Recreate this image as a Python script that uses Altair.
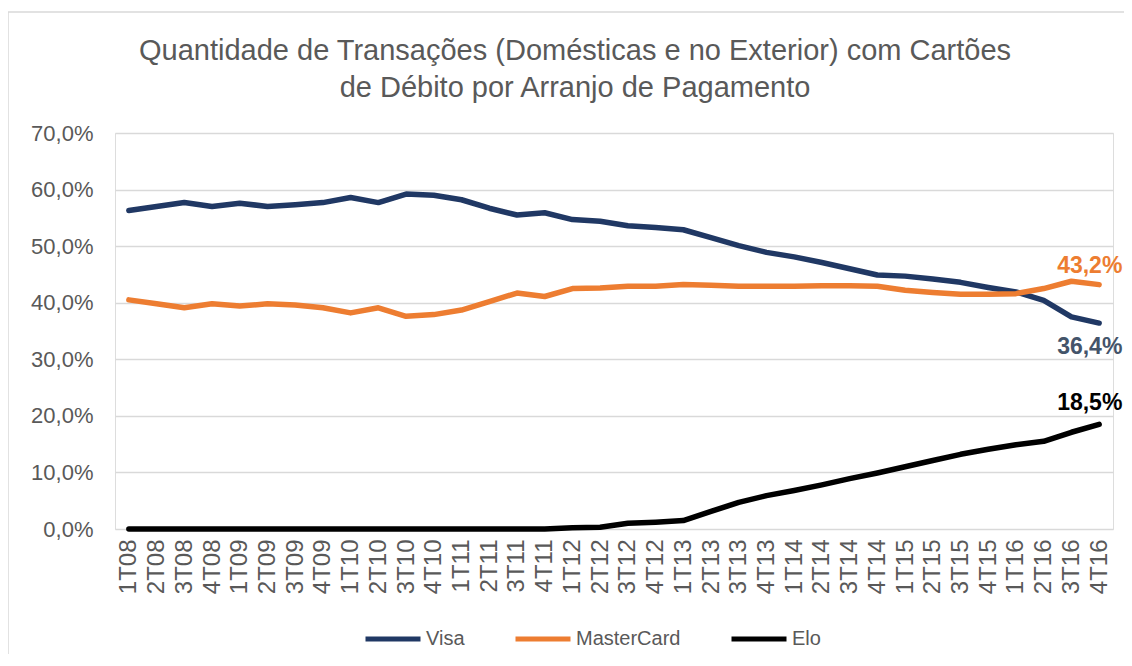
import altair as alt
import pandas as pd

quarters = ["1T08","2T08","3T08","4T08","1T09","2T09","3T09","4T09",
            "1T10","2T10","3T10","4T10","1T11","2T11","3T11","4T11",
            "1T12","2T12","3T12","4T12","1T13","2T13","3T13","4T13",
            "1T14","2T14","3T14","4T14","1T15","2T15","3T15","4T15",
            "1T16","2T16","3T16","4T16"]

visa = [56.3, 57.0, 57.7, 57.0, 57.6, 57.0, 57.3, 57.7,
        58.6, 57.7, 59.2, 59.0, 58.2, 56.7, 55.5, 55.9,
        54.7, 54.4, 53.6, 53.3, 52.9, 51.5, 50.1, 48.9,
        48.1, 47.1, 46.0, 44.9, 44.7, 44.2, 43.6, 42.7,
        41.9, 40.4, 37.5, 36.4]

mastercard = [40.5, 39.8, 39.1, 39.8, 39.4, 39.8, 39.6, 39.1,
              38.2, 39.1, 37.6, 37.9, 38.7, 40.2, 41.7, 41.1,
              42.5, 42.6, 42.9, 42.9, 43.2, 43.1, 42.9, 42.9,
              42.9, 43.0, 43.0, 42.9, 42.2, 41.8, 41.5, 41.5,
              41.6, 42.5, 43.8, 43.2]

elo = [0.0, 0.0, 0.0, 0.0, 0.0, 0.0, 0.0, 0.0,
       0.0, 0.0, 0.0, 0.0, 0.0, 0.0, 0.0, 0.0,
       0.2, 0.3, 1.0, 1.2, 1.5, 3.1, 4.7, 5.9,
       6.8, 7.8, 8.9, 9.9, 11.0, 12.1, 13.2, 14.1,
       14.9, 15.5, 17.1, 18.5]

series_names = ["Visa", "MasterCard", "Elo"]
series_colors = ["#203864", "#ED7D31", "#000000"]
title_lines = ["Quantidade de Transações (Domésticas e no Exterior) com Cartões",
               "de Débito por Arranjo de Pagamento"]
y_ticks = [0, 10, 20, 30, 40, 50, 60, 70]

rows = []
for name, vals in zip(series_names, [visa, mastercard, elo]):
    for q, v in zip(quarters, vals):
        rows.append({"q": q, "series": name, "value": v})
df = pd.DataFrame(rows)

FONT = "Liberation Sans"
W, H = 998, 396

x_enc = alt.X("q:N", sort=quarters, scale=alt.Scale(type="point", padding=0.5),
              axis=alt.Axis(title=None, labelAngle=270, labelAlign="right",
                            labelBaseline="middle", labelFontSize=24,
                            labelColor="#595959", labelPadding=10,
                            ticks=False, domain=False, grid=False, labelFont=FONT))
y_enc = alt.Y("value:Q", scale=alt.Scale(domain=[0, 70], nice=False),
              axis=alt.Axis(title=None, values=y_ticks, labelFontSize=22,
                            labelColor="#595959", labelPadding=22, ticks=False,
                            domain=False, gridColor="#d9d9d9", gridWidth=1.5,
                            labelFont=FONT,
                            labelExpr="replace(format(datum.value, '.1f'), '.', ',') + '%'"))

color_enc = alt.Color("series:N",
                      scale=alt.Scale(domain=series_names, range=series_colors),
                      sort=series_names,
                      legend=alt.Legend(title=None, orient="none", legendX=248,
                                        legendY=476, direction="horizontal",
                                        symbolType="stroke", symbolSize=3025,
                                        symbolStrokeWidth=5, labelFontSize=20,
                                        labelColor="#595959", labelOffset=3,
                                        columnPadding=40, labelFont=FONT))

base = alt.Chart(df)

lines = base.mark_line(strokeWidth=5.5, strokeCap="round", strokeJoin="round").encode(
    x=x_enc, y=y_enc, color=color_enc, order=alt.Order("series:N"))

last_q = quarters[-1]

def end_label(name, color, dy):
    return base.transform_filter(
        (alt.datum.q == last_q) & (alt.datum.series == name)
    ).transform_calculate(
        label="replace(format(datum.value, '.1f'), '.', ',') + '%'"
    ).mark_text(align="left", baseline="alphabetic", dx=-42, dy=dy,
                fontSize=23, fontWeight="bold", font=FONT, color=color).encode(
        x=alt.X("q:N", sort=quarters, scale=alt.Scale(type="point", padding=0.5)),
        y=alt.Y("value:Q"), text="label:N")

lbl_mc = end_label("MasterCard", "#ED7D31", -12)
lbl_visa = end_label("Visa", "#44546A", 31)
lbl_elo = end_label("Elo", "#000000", -14)

title = alt.Chart(pd.DataFrame({"t": [title_lines]})).mark_text(
    align="center", baseline="alphabetic", fontSize=29, font=FONT,
    color="#595959", lineHeight=37).encode(
    x=alt.value(460), y=alt.value(-73), text="t")

frame = alt.Chart(pd.DataFrame({"a": [0]})).mark_rect(
    fill=None, stroke="#d9d9d9", strokeWidth=1.5).encode(
    x=alt.value(-107), x2=alt.value(1040), y=alt.value(-121), y2=alt.value(600))

chart = alt.layer(frame, lines, lbl_mc, lbl_visa, lbl_elo, title).properties(
    width=W, height=H,
    padding={"left": 107, "top": 125, "right": 11, "bottom": 125},
    autosize=alt.AutoSizeParams(type="none"),
).configure_view(stroke=None).configure(font=FONT)

chart.save("out.html", embed_options={"renderer": "svg", "actions": False})
